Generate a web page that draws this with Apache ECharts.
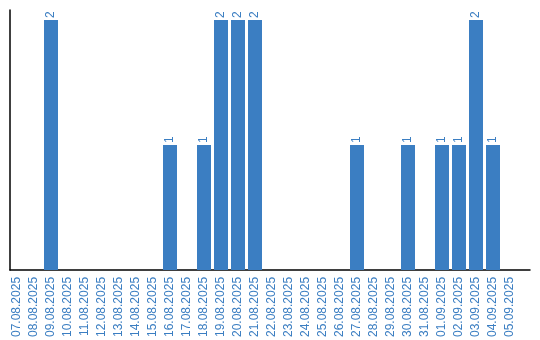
<!DOCTYPE html>
<html><head><meta charset="utf-8">
<script src="https://cdn.jsdelivr.net/npm/echarts@6/dist/echarts.min.js"></script>
<style>html,body{margin:0;padding:0;background:#fff}#c{width:540px;height:340px}</style>
</head><body><div id="c"></div>
<script>
const categories = ["07.08.2025","08.08.2025","09.08.2025","10.08.2025","11.08.2025","12.08.2025","13.08.2025","14.08.2025","15.08.2025","16.08.2025","17.08.2025","18.08.2025","19.08.2025","20.08.2025","21.08.2025","22.08.2025","23.08.2025","24.08.2025","25.08.2025","26.08.2025","27.08.2025","28.08.2025","29.08.2025","30.08.2025","31.08.2025","01.09.2025","02.09.2025","03.09.2025","04.09.2025","05.09.2025"];
const counts = [0,0,2,0,0,0,0,0,0,1,0,1,2,2,2,0,0,0,0,0,1,0,0,1,0,1,1,2,1,0];
const yMax = 2;

const blue = '#3b7ec2';
const chart = echarts.init(document.getElementById('c'), null, {renderer:'canvas'});
chart.setOption({
  animation: false,
  grid: [
    {left: 8.5, width: 510, top: 20, bottom: 70},
    {left: 10, right: 10, top: 10, bottom: 70}
  ],
  xAxis: [
    {type:'category', data: categories, gridIndex:0,
     axisLine:{show:false}, axisTick:{show:false},
     axisLabel:{rotate:90, interval:0, color: blue, fontFamily:'Liberation Sans', fontSize:12, margin:7}},
    {type:'value', gridIndex:1, min:0, max:1, axisLine:{show:true, lineStyle:{color:'#000', width:1.5}},
     axisTick:{show:false}, axisLabel:{show:false}, splitLine:{show:false}}
  ],
  yAxis: [
    {type:'value', gridIndex:0, min:0, max:yMax, axisLine:{show:false}, axisTick:{show:false},
     axisLabel:{show:false}, splitLine:{show:false}},
    {type:'value', gridIndex:1, min:0, max:1, axisLine:{show:true, lineStyle:{color:'#000', width:1.5}},
     axisTick:{show:false}, axisLabel:{show:false}, splitLine:{show:false}}
  ],
  series: [{
    type:'bar', data: counts, xAxisIndex:0, yAxisIndex:0, barWidth:14,
    itemStyle:{color: blue},
    label:{show:true, position:'top', rotate:90, align:'left', verticalAlign:'middle', distance:2,
      color: blue, fontFamily:'Liberation Sans', fontSize:12,
      formatter: p => p.value ? String(p.value) : ''}
  }]
});
</script></body></html>
